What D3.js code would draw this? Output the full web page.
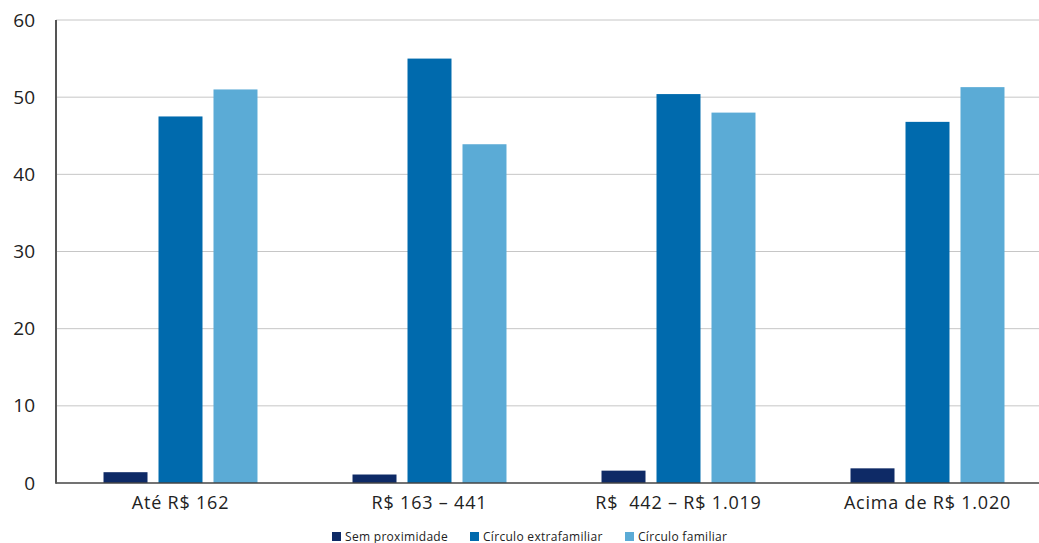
<!DOCTYPE html>
<html><head><meta charset="utf-8">
<script src="https://cdn.jsdelivr.net/npm/d3@7"></script>
<style>body{margin:0;background:#fff;}svg{display:block;font-family:"Open Sans","Noto Sans",sans-serif;}</style>
</head><body><svg id="c" width="1039" height="543"></svg>
<script>
const categories = ["Até R$ 162", "R$ 163 – 441", "R$  442 – R$ 1.019", "Acima de R$ 1.020"];
const seriesNames = ["Sem proximidade", "Círculo extrafamiliar", "Círculo familiar"];
const semProximidade = [1.4, 1.1, 1.6, 1.9];
const circuloExtrafamiliar = [47.5, 55.0, 50.4, 46.8];
const circuloFamiliar = [51.0, 43.9, 48.0, 51.3];
const yTicks = [0, 10, 20, 30, 40, 50, 60];
const colors = ["#0e2a66", "#006aad", "#5babd6"];

(function () {
const series = [semProximidade, circuloExtrafamiliar, circuloFamiliar];
const svg = d3.select("#c");
const mLeft = 56, mRight = 1052, mTop = 20, mBottom = 483;
const x = d3.scaleBand().domain(categories).range([mLeft, mRight]).paddingInner(0).paddingOuter(0);
const x1 = d3.scaleBand().domain(d3.range(3)).range([0, x.bandwidth()]).paddingInner(0.2).paddingOuter(0.864);
const y = d3.scaleLinear().domain([0, 60]).range([mBottom, mTop]);

// gridlines
svg.append("g").selectAll("line").data(yTicks.filter(d => d > 0)).join("line")
  .attr("x1", mLeft).attr("x2", 1039).attr("y1", d => y(d)).attr("y2", d => y(d))
  .attr("stroke", "#c6c6c6").attr("stroke-width", 1);

// y axis labels
const yAxis = d3.axisLeft(y).tickValues(yTicks).tickSize(0).tickPadding(21);
const gy = svg.append("g").attr("transform", `translate(${mLeft},0)`).call(yAxis);
gy.select(".domain").remove();
gy.selectAll("text").attr("font-size", 19).attr("fill", "#222").attr("font-family", "Open Sans, Noto Sans, sans-serif");

// bars
const groups = svg.append("g").selectAll("g").data(categories).join("g")
  .attr("transform", c => `translate(${x(c)},0)`);
groups.selectAll("rect").data((c, i) => series.map((s, k) => ({k, v: s[i]}))).join("rect")
  .attr("x", d => x1(d.k)).attr("width", x1.bandwidth())
  .attr("y", d => y(d.v)).attr("height", d => y(0) - y(d.v))
  .attr("fill", d => colors[d.k]);

// axes lines
svg.append("line").attr("x1", mLeft).attr("x2", 1039).attr("y1", mBottom).attr("y2", mBottom)
  .attr("stroke", "#444").attr("stroke-width", 1.5);
svg.append("line").attr("x1", mLeft).attr("x2", mLeft).attr("y1", mTop).attr("y2", mBottom + 0.75)
  .attr("stroke", "#555").attr("stroke-width", 2);

// x labels
const xAxis = d3.axisBottom(x).tickSize(0).tickPadding(13);
const gx = svg.append("g").attr("transform", `translate(0,${mBottom})`).call(xAxis);
gx.select(".domain").remove();
gx.selectAll("text").attr("font-size", 18).attr("letter-spacing", 0.8).attr("fill", "#222")
  .attr("font-family", "Open Sans, Noto Sans, sans-serif")
  .style("white-space", "pre");

// legend
const legendX = [332, 470, 625];
const lg = svg.append("g").selectAll("g").data(seriesNames).join("g")
  .attr("transform", (d, i) => `translate(${legendX[i]},532)`);
lg.append("rect").attr("width", 9).attr("height", 9).attr("fill", (d, i) => colors[i]);
lg.append("text").attr("x", 13).attr("y", 8.5).attr("font-size", 12).attr("letter-spacing", 0.3)
  .attr("fill", "#222").text(d => d);
})();
</script></body></html>
